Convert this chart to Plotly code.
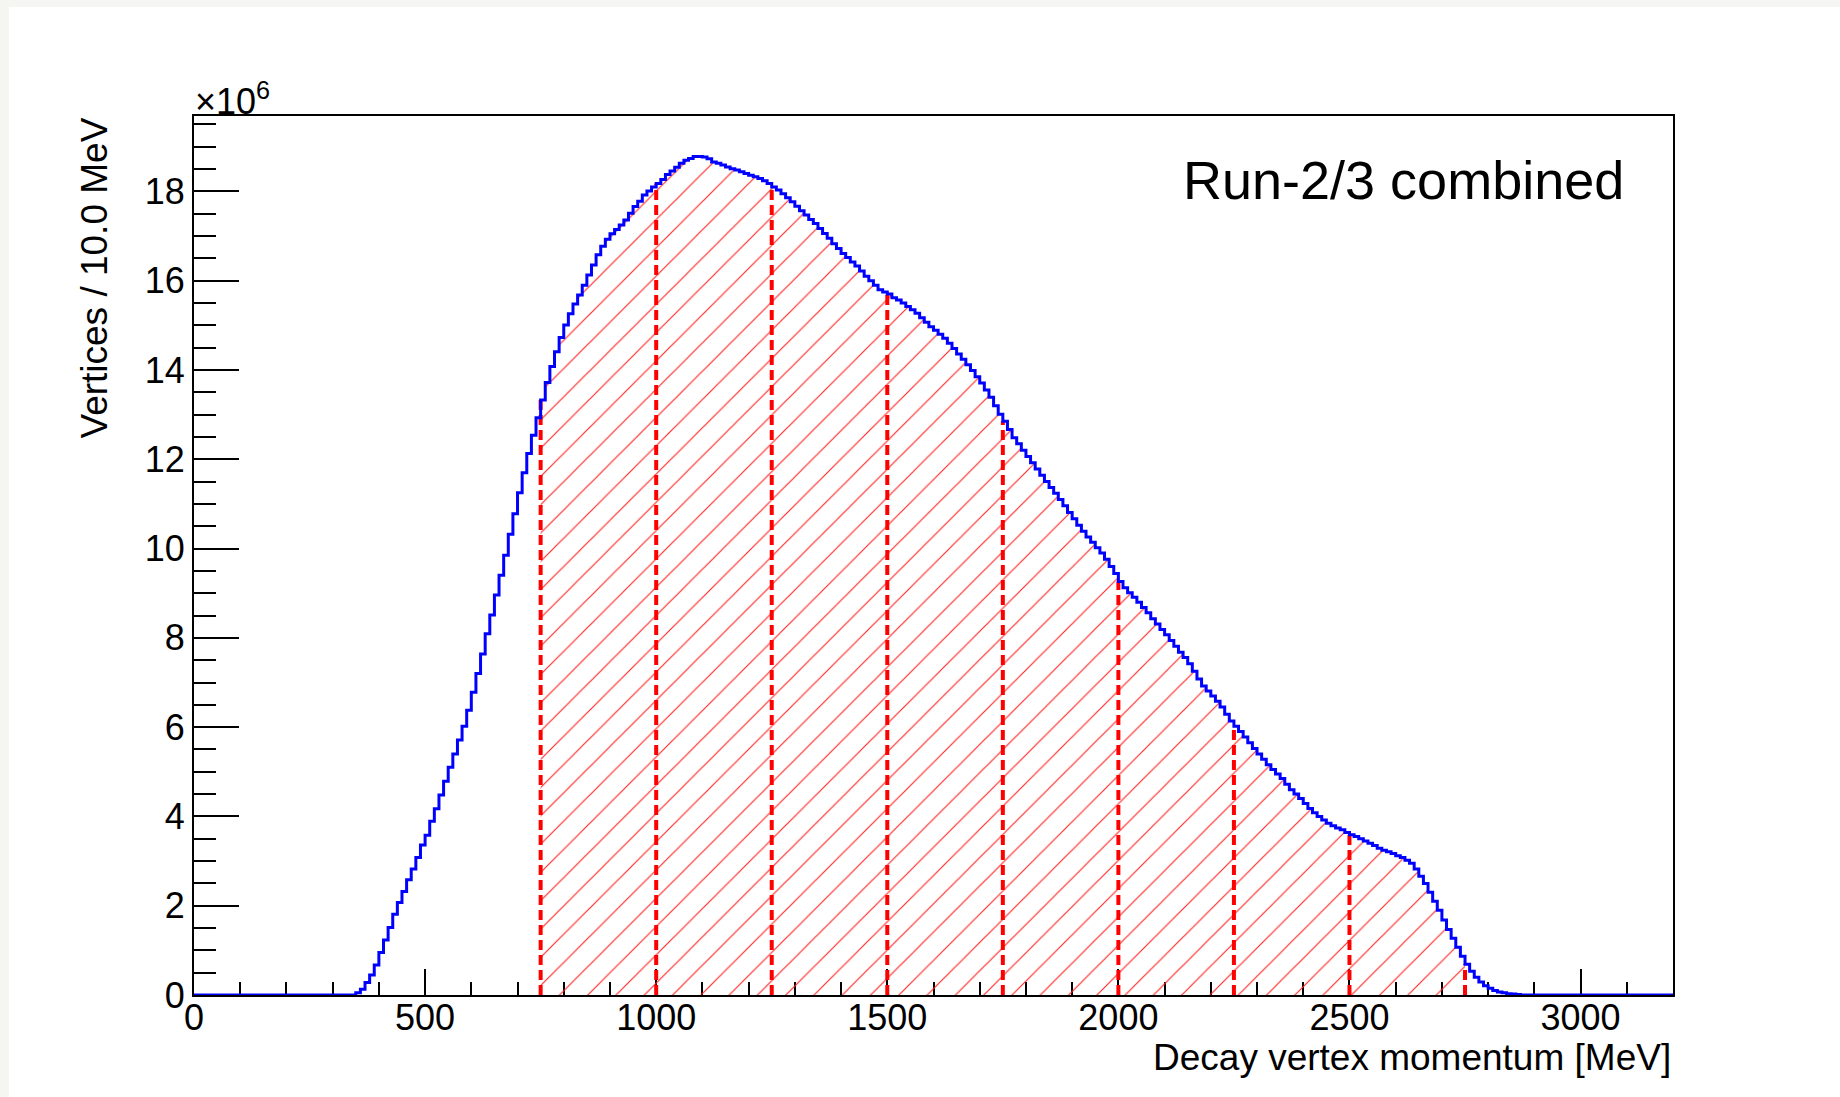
import plotly.graph_objects as go

# ---------------- data ----------------
bin_start_mev = 350          # left edge of first listed bin
bin_width_mev = 10
axis_min_mev = 0
axis_max_mev = 3200
# vertices per 10 MeV bin, in units of 1e6, bins starting at 350 MeV
counts_1e6 = [
    0.05, 0.13, 0.28, 0.45, 0.67, 0.95, 1.23, 1.51, 1.81, 2.07,          # 350-440
    2.32, 2.58, 2.82, 3.08, 3.36, 3.58, 3.89, 4.17, 4.48, 4.79,          # 450-540
    5.10, 5.40, 5.71, 6.02, 6.38, 6.78, 7.20, 7.64, 8.09, 8.51,          # 550-640
    8.96, 9.40, 9.85, 10.32, 10.78, 11.25, 11.70, 12.13, 12.54, 12.93,   # 650-740
    13.33, 13.72, 14.08, 14.41, 14.73, 15.01, 15.26, 15.48, 15.68, 15.90,  # 750-840
    16.13, 16.35, 16.58, 16.77, 16.93, 17.05, 17.15, 17.25, 17.36, 17.51,  # 850-940
    17.66, 17.78, 17.92, 18.01, 18.10, 18.18, 18.27, 18.38, 18.46, 18.54,  # 950-1040
    18.63, 18.70, 18.74, 18.78, 18.78, 18.77, 18.73, 18.66, 18.63, 18.59,  # 1050-1140
    18.55, 18.51, 18.48, 18.44, 18.40, 18.36, 18.33, 18.29, 18.24, 18.18,  # 1150-1240
    18.10, 18.03, 17.95, 17.86, 17.77, 17.67, 17.57, 17.47, 17.37, 17.28,  # 1250-1340
    17.17, 17.06, 16.95, 16.83, 16.72, 16.61, 16.52, 16.42, 16.33, 16.22,  # 1350-1440
    16.10, 16.00, 15.90, 15.80, 15.75, 15.70, 15.62, 15.57, 15.50, 15.42,  # 1450-1540
    15.35, 15.27, 15.17, 15.07, 14.97, 14.89, 14.80, 14.71, 14.60, 14.48,  # 1550-1640
    14.36, 14.24, 14.12, 13.99, 13.85, 13.71, 13.55, 13.39, 13.20, 13.01,  # 1650-1740
    12.85, 12.67, 12.48, 12.35, 12.20, 12.06, 11.92, 11.78, 11.64, 11.50,  # 1750-1840
    11.37, 11.24, 11.10, 10.96, 10.81, 10.67, 10.52, 10.39, 10.26, 10.14,  # 1850-1940
    10.02, 9.90, 9.76, 9.60, 9.44, 9.26, 9.12, 9.01, 8.91, 8.80,           # 1950-2040
    8.68, 8.56, 8.43, 8.31, 8.19, 8.07, 7.94, 7.81, 7.68, 7.56,            # 2050-2140
    7.42, 7.25, 7.08, 6.92, 6.81, 6.70, 6.58, 6.45, 6.29, 6.14,            # 2150-2240
    6.02, 5.90, 5.78, 5.65, 5.52, 5.40, 5.28, 5.16, 5.05, 4.95,            # 2250-2340
    4.85, 4.72, 4.60, 4.50, 4.40, 4.29, 4.18, 4.08, 4.00, 3.92,            # 2350-2440
    3.85, 3.79, 3.74, 3.70, 3.64, 3.59, 3.55, 3.50, 3.45, 3.40,            # 2450-2540
    3.35, 3.29, 3.24, 3.21, 3.17, 3.12, 3.08, 3.02, 2.95, 2.82,            # 2550-2640
    2.66, 2.50, 2.30, 2.10, 1.90, 1.68, 1.47, 1.27, 1.07, 0.87,            # 2650-2740
    0.69, 0.53, 0.40, 0.29, 0.21, 0.15, 0.10, 0.07, 0.05, 0.03,            # 2750-2840
    0.02, 0.01,                                                            # 2850-2860
]
cut_edges_mev = [750, 1000, 1250, 1500, 1750, 2000, 2250, 2500, 2750]
x_ticks = [0, 500, 1000, 1500, 2000, 2500, 3000]
y_ticks = [0, 2, 4, 6, 8, 10, 12, 14, 16, 18]

x_title = "Decay vertex momentum [MeV]"
y_title = "Vertices / 10.0 MeV"
label_text = "Run-2/3 combined"
exp_text = "×10<sup>6</sup>"

# ---------------- full histogram (0-3200) ----------------
n_bins = (axis_max_mev - axis_min_mev) // bin_width_mev
edges = [axis_min_mev + i * bin_width_mev for i in range(n_bins + 1)]
first = (bin_start_mev - axis_min_mev) // bin_width_mev
contents = [0.0] * n_bins
for i, v in enumerate(counts_1e6):
    contents[first + i] = v

def content_at(x):
    return contents[int((x - axis_min_mev) // bin_width_mev)]

# step coordinates
hx = edges[:-1] + [edges[-1]]
hy = contents + [contents[-1]]

# hatched region between first and last cut
lo, hi = cut_edges_mev[0], cut_edges_mev[-1]
i0 = (lo - axis_min_mev) // bin_width_mev
i1 = (hi - axis_min_mev) // bin_width_mev
fx = [edges[i] for i in range(i0, i1)] + [hi]
fy = [contents[i] for i in range(i0, i1)] + [contents[i1 - 1]]
fx = [lo] + fx + [hi]
fy = [0] + fy + [0]

FONT = "Liberation Sans, Arial, Helvetica, sans-serif"

fig = go.Figure()

fig.add_trace(go.Scatter(
    x=fx, y=fy, mode="lines", line=dict(width=0, shape="hv", color="rgba(0,0,0,0)"),
    fill="toself", fillcolor="rgba(255,255,255,0)",
    fillpattern=dict(shape="/", fgcolor="#ff2a2a", bgcolor="rgba(255,255,255,0)",
                     size=20, solidity=0.06, fillmode="replace"),
    hoverinfo="skip", showlegend=False,
))

for e in cut_edges_mev:
    fig.add_trace(go.Scatter(
        x=[e, e], y=[0, content_at(e)], mode="lines",
        line=dict(color="#ff0000", width=4, dash="10px,5px"),
        hoverinfo="skip", showlegend=False,
    ))

fig.add_trace(go.Scatter(
    x=hx, y=hy, mode="lines", line=dict(color="#0000ff", width=3, shape="hv"),
    hoverinfo="skip", showlegend=False,
))

W, H = 1840, 1097
ml, mr, mt, mb = 194, 167, 116, 102
pw, ph = W - ml - mr, H - mt - mb

def px_x(p):
    return (p - ml) / pw

def px_y(p):
    return (H - mb - p) / ph

fig.update_layout(
    width=W, height=H,
    margin=dict(l=ml, r=mr, t=mt, b=mb, pad=0),
    paper_bgcolor="#f5f5f1",
    plot_bgcolor="white",
    font=dict(family=FONT, size=36, color="black"),
    xaxis=dict(
        range=[axis_min_mev, axis_max_mev], tickvals=x_ticks, ticktext=[str(t) for t in x_ticks],
        ticks="inside", ticklen=26, tickwidth=2, tickcolor="black",
        minor=dict(dtick=100, ticklen=13, tickwidth=2, tickcolor="black", ticks="inside"),
        showline=True, linewidth=2, linecolor="black", mirror=True,
        showgrid=False, zeroline=False, tickfont=dict(size=36, family=FONT),
        ticklabelstandoff=-10, layer="below traces",
    ),
    yaxis=dict(
        range=[0, 19.69], tickvals=y_ticks, ticktext=[str(t) for t in y_ticks],
        ticks="inside", ticklen=45, tickwidth=2, tickcolor="black",
        minor=dict(dtick=0.5, ticklen=22, tickwidth=2, tickcolor="black", ticks="inside"),
        showline=True, linewidth=2, linecolor="black", mirror=True,
        showgrid=False, zeroline=False, tickfont=dict(size=36, family=FONT),
        ticklabelstandoff=0, layer="below traces",
    ),
    shapes=[
        dict(type="rect", xref="paper", yref="paper", layer="below",
             x0=px_x(9), x1=px_x(W + 5), y0=px_y(7), y1=px_y(H + 5),
             fillcolor="white", line=dict(width=0)),
    ],
    annotations=[
        dict(text=x_title, xref="paper", yref="paper", x=1.0, y=px_y(1057),
             xanchor="right", yanchor="middle", showarrow=False,
             font=dict(size=37, family=FONT)),
        dict(text=y_title, xref="paper", yref="paper", x=px_x(94), y=px_y(116),
             xanchor="center", yanchor="top", textangle=-90, showarrow=False,
             font=dict(size=37, family=FONT)),
        dict(text=label_text, xref="paper", yref="paper", x=px_x(1626), y=px_y(180),
             xanchor="right", yanchor="middle", showarrow=False,
             font=dict(size=54, family=FONT)),
        dict(text=exp_text, xref="paper", yref="paper", x=px_x(193), y=1.0,
             xanchor="left", yanchor="bottom", yshift=-8, showarrow=False,
             font=dict(size=36, family=FONT)),
    ],
)

fig.write_html("out.html")
